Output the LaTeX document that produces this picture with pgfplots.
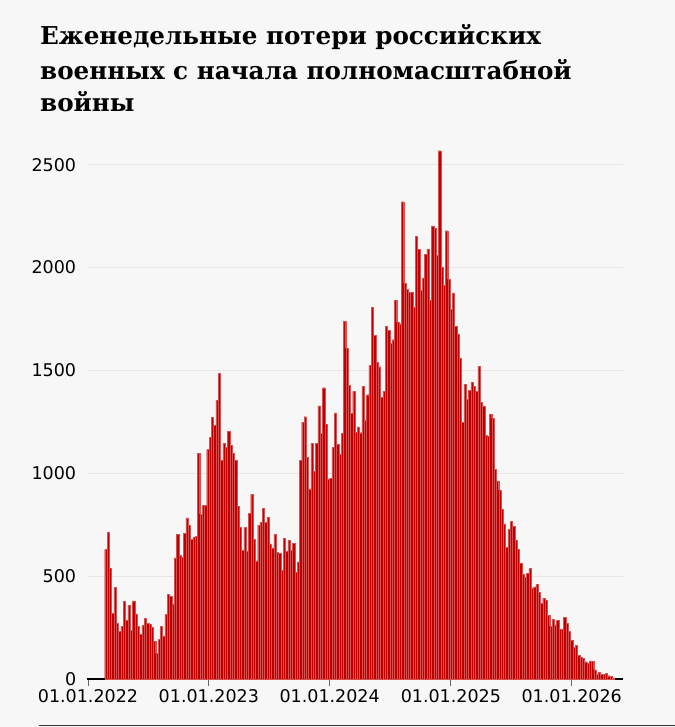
\documentclass[border=0pt]{standalone}
\usepackage{pgfplots}
\pgfplotsset{compat=1.18}
\usepackage{pgfplotstable}
\usepackage{fontspec}
\setmainfont{DejaVu Sans}
\newfontfamily\titlefont{DejaVu Serif}
\definecolor{bg}{HTML}{F7F7F7}
\definecolor{barred}{HTML}{BE0000}
\definecolor{baredge}{HTML}{D85050}
\definecolor{gridgray}{HTML}{E6E6E6}
\definecolor{tickgray}{HTML}{666666}

\pgfplotstableread{
y
630
712
537
319
445
270
233
257
379
286
358
238
380
316
257
217
261
296
273
267
251
184
125
194
257
210
314
413
404
366
589
704
600
592
707
783
748
680
691
694
1096
801
845
843
1115
1175
1273
1234
1353
1485
1063
1147
1126
1204
1137
1097
1063
840
736
626
736
623
806
897
678
574
748
761
829
761
785
657
637
702
615
612
529
683
623
673
626
660
519
569
1063
1249
1275
1078
924
1146
1008
1146
1327
1194
1416
1239
971
976
1125
1294
1141
1092
1193
1739
1608
1427
1291
1398
1199
1225
1197
1421
1259
1382
1524
1806
1671
1540
1518
1369
1398
1715
1694
1632
1649
1841
1736
1727
2320
1924
1893
1878
1878
1806
2150
2089
1888
1950
2063
2091
1840
2202
2189
2061
2568
2003
1912
2179
1943
1796
1877
1713
1678
1557
1247
1432
1359
1403
1442
1421
1398
1521
1345
1328
1184
1178
1285
1268
1019
963
919
824
754
641
728
765
744
675
630
563
510
494
513
537
443
448
460
421
367
392
382
311
257
290
264
286
244
244
301
270
232
189
153
162
114
105
102
84
75
88
87
45
25
33
23
24
26
16
14
6
}\losses

\begin{document}
\begin{tikzpicture}
\fill[bg] (0,0) rectangle (675bp,727bp);
\useasboundingbox (0,0) rectangle (675bp,727bp);
\node[anchor=base west, inner sep=0pt, font=\titlefont\bfseries\fontsize{24.6bp}{30bp}\selectfont] at (40bp,682bp) {Еженедельные потери российских};
\node[anchor=base west, inner sep=0pt, font=\titlefont\bfseries\fontsize{24.6bp}{30bp}\selectfont] at (40bp,647bp) {военных с начала полномасштабной};
\node[anchor=base west, inner sep=0pt, font=\titlefont\bfseries\fontsize{24.6bp}{30bp}\selectfont] at (40bp,615.3bp) {войны};
\begin{axis}[
  at={(87.34bp,48bp)}, anchor=south west,
  scale only axis, width=536bp, height=534.9bp,
  xmin=-2, xmax=1617, ymin=0, ymax=2600,
  axis x line*=bottom, axis y line*=left,
  y axis line style={draw=none},
  x axis line style={draw=black, line width=1.2bp},
  ymajorgrids, grid style={draw=gridgray, line width=0.8bp},
  ytick={0,500,1000,1500,2000,2500},
  ytick style={draw=none},
  xtick={0,365,730,1096,1461},
  xticklabels={01.01.2022,01.01.2023,01.01.2024,01.01.2025,01.01.2026},
  tick align=outside, major tick length=7bp,
  xtick style={draw=tickgray, line width=1bp},
  /pgf/number format/assume math mode=true,
  /pgf/number format/1000 sep={},
  ticklabel style={font=\fontsize{17.5bp}{20bp}\selectfont, inner sep=0pt},
  yticklabel style={anchor=east, xshift=-4bp},
  xticklabel style={anchor=north, yshift=-3bp},
  clip=false,
]
\addplot[ybar, bar width=7, fill=barred, draw=baredge, line width=0.35bp]
  table[x expr={54+7*\coordindex}, y=y] {\losses};
\end{axis}
\draw[line width=1.3bp, draw=black!78] (39.3bp,1.3bp) -- (675bp,1.3bp);
\end{tikzpicture}
\end{document}
